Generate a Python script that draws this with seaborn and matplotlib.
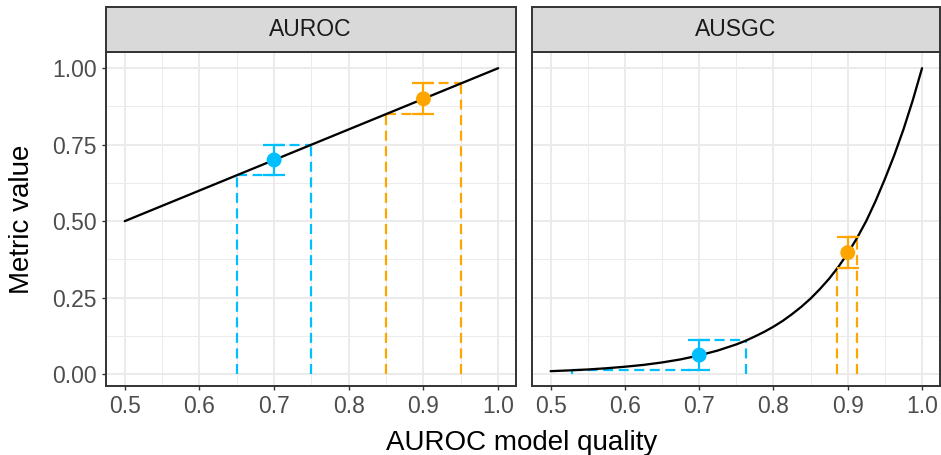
import matplotlib
matplotlib.use("Agg")
import matplotlib.pyplot as plt
from matplotlib.patches import Rectangle
from matplotlib.ticker import MultipleLocator
import seaborn as sns
import pandas as pd

# metric curves
auroc_x = [0.5, 1.0]
auroc_y = [0.5, 1.0]

ausgc_x = [0.500, 0.525, 0.550, 0.575, 0.600, 0.625, 0.650, 0.675, 0.700, 0.725, 0.750,
           0.7625, 0.775, 0.7875, 0.800, 0.8125, 0.825, 0.8375, 0.850, 0.8625, 0.875,
           0.8875, 0.900, 0.9125, 0.925, 0.9375, 0.950, 0.9625, 0.975, 0.9875, 1.000]
ausgc_y = [0.0095, 0.012, 0.015, 0.019, 0.024, 0.030, 0.038, 0.048, 0.061, 0.077, 0.097,
           0.109, 0.123, 0.138, 0.155, 0.174, 0.196, 0.220, 0.247, 0.278, 0.312,
           0.351, 0.395, 0.445, 0.501, 0.566, 0.638, 0.715, 0.800, 0.895, 1.000]

# the two example models
quality = [0.7, 0.9]
point_colors = ["#00BFFF", "#FFA500"]

auroc_val = [0.70, 0.90]
auroc_lo = [0.65, 0.85]
auroc_hi = [0.75, 0.95]
auroc_lo_x = [0.65, 0.85]
auroc_hi_x = [0.75, 0.95]

ausgc_val = [0.062, 0.397]
ausgc_lo = [0.012, 0.347]
ausgc_hi = [0.112, 0.447]
ausgc_lo_x = [0.529, 0.885]
ausgc_hi_x = [0.763, 0.913]

facets = ["AUROC", "AUSGC"]

sns.set_theme(style="white")
plt.rcParams['font.family'] = ['Liberation Sans', 'DejaVu Sans']

W, H = 941, 455
fig = plt.figure(figsize=(W / 100, H / 100), dpi=100)

panel_top, panel_bot = 52.3, 386
ax1 = fig.add_axes([105.7 / W, 1 - panel_bot / H, 410 / W, (panel_bot - panel_top) / H])
ax2 = fig.add_axes([531.7 / W, 1 - panel_bot / H, 407.8 / W, (panel_bot - panel_top) / H])

panels = [
    (ax1, auroc_x, auroc_y, auroc_val, auroc_lo, auroc_hi, auroc_lo_x, auroc_hi_x),
    (ax2, ausgc_x, ausgc_y, ausgc_val, ausgc_lo, ausgc_hi, ausgc_lo_x, ausgc_hi_x),
]

dash = (4.5, 2.5)
strip_h = 45 / (panel_bot - panel_top)

for name, (ax, cx, cy, val, lo, hi, lo_x, hi_x) in zip(facets, panels):
    ax.set_facecolor("white")
    curve = pd.DataFrame({"x": cx, "y": cy})
    sns.lineplot(data=curve, x="x", y="y", ax=ax, color="black", lw=1.65, zorder=3)

    for i in range(len(quality)):
        c = point_colors[i]
        # dashed guides down to the x axis
        ax.plot([lo_x[i], quality[i]], [lo[i], lo[i]], color=c, lw=1.6, dashes=dash, zorder=2)
        ax.plot([lo_x[i], lo_x[i]], [0, lo[i]], color=c, lw=1.6, dashes=dash, zorder=2)
        ax.plot([quality[i], hi_x[i]], [hi[i], hi[i]], color=c, lw=1.6, dashes=dash, zorder=2)
        ax.plot([hi_x[i], hi_x[i]], [0, hi[i]], color=c, lw=1.6, dashes=dash, zorder=2)
        ax.errorbar(quality[i], val[i], yerr=[[val[i] - lo[i]], [hi[i] - val[i]]],
                    fmt="none", ecolor=c, elinewidth=1.6, capsize=8, capthick=1.6, zorder=4)

    pts = pd.DataFrame({"x": quality, "y": val, "c": ["a", "b"]})
    sns.scatterplot(data=pts, x="x", y="y", hue="c", palette=point_colors, s=115,
                    linewidth=0, ax=ax, legend=False, zorder=5)

    ax.set_xlim(0.4745, 1.0235)
    ax.set_ylim(-0.039, 1.052)
    ax.xaxis.set_major_locator(MultipleLocator(0.1))
    ax.xaxis.set_minor_locator(MultipleLocator(0.05))
    ax.yaxis.set_major_locator(MultipleLocator(0.25))
    ax.yaxis.set_minor_locator(MultipleLocator(0.125))
    ax.xaxis.set_major_formatter(matplotlib.ticker.FormatStrFormatter("%.1f"))
    ax.yaxis.set_major_formatter(matplotlib.ticker.FormatStrFormatter("%.2f"))
    ax.grid(which="major", color="#EBEBEB", lw=1.4, zorder=0)
    ax.grid(which="minor", color="#EBEBEB", lw=0.7, zorder=0)
    ax.set_axisbelow(True)
    for sp in ax.spines.values():
        sp.set_color("#333333")
        sp.set_linewidth(1.4)
        sp.set_zorder(6)
    ax.tick_params(which="major", length=3.2, width=1.0, color="#333333",
                   labelsize=16.5, labelcolor="#4D4D4D", pad=3.5,
                   bottom=True, left=True)
    ax.tick_params(which="minor", length=0)
    ax.set_xlabel("")
    ax.set_ylabel("")

    ax.add_patch(Rectangle((0, 1), 1, strip_h, transform=ax.transAxes, clip_on=False,
                           facecolor="#D9D9D9", edgecolor="#333333", lw=1.4, zorder=7))
    ax.text(0.5, 1 + strip_h / 2, name, transform=ax.transAxes, ha="center", va="center",
            fontsize=16.5, color="#1A1A1A", zorder=8)

ax2.tick_params(left=False, labelleft=False)

fig.text(522 / W, 5 / H, "AUROC model quality", ha="center", va="baseline",
         fontsize=20, color="black")
fig.text(22.5 / W, 1 - 219 / H, "Metric value", rotation=90, ha="center", va="center",
         fontsize=20, color="black")

fig.savefig("out.png", dpi=100)
